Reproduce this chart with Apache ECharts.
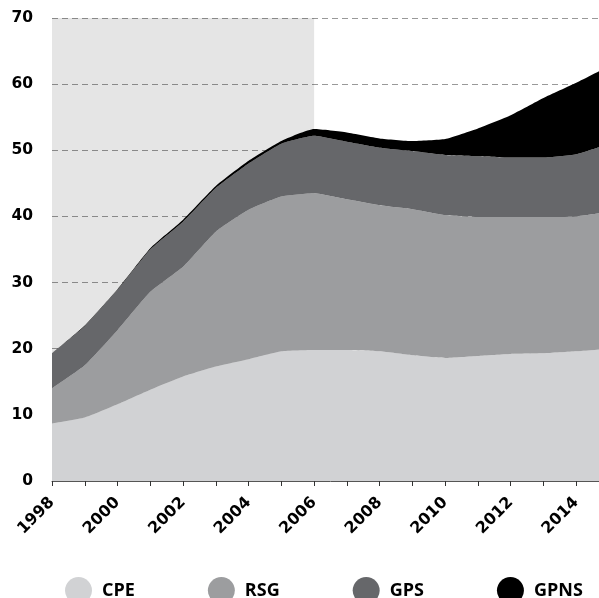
<!DOCTYPE html>
<html>
<head>
<meta charset="utf-8">
<script src="https://cdn.jsdelivr.net/npm/echarts@6/dist/echarts.min.js"></script>
<style>
  html, body { margin: 0; padding: 0; background: #fff; overflow: hidden; }
  /* a little wider than the window: the last year falls just past the right edge */
  #chart { width: 609px; height: 598px; }
</style>
</head>
<body>
<div id="chart"></div>
<script>
var years = ["1998", "1999", "2000", "2001", "2002", "2003", "2004", "2005", "2006",
  "2007", "2008", "2009", "2010", "2011", "2012", "2013", "2014", "2015"];
var cpe = [8.7, 9.6, 11.6, 13.8, 15.8, 17.3, 18.4, 19.6, 19.8, 19.8, 19.6, 19.0, 18.6, 18.9, 19.2, 19.3, 19.6, 20.0];
var rsg = [5.3, 7.9, 11.2, 14.8, 16.6, 20.4, 22.6, 23.4, 23.7, 22.8, 22.1, 22.1, 21.6, 21.0, 20.7, 20.6, 20.4, 20.7];
var gps = [5.3, 5.9, 6.1, 6.4, 6.8, 6.6, 7.0, 8.0, 8.7, 8.7, 8.7, 8.8, 9.1, 9.2, 9.0, 9.0, 9.4, 10.3];
var gpns = [0, 0.1, 0.1, 0.2, 0.3, 0.3, 0.4, 0.4, 1.0, 1.4, 1.4, 1.5, 2.4, 4.2, 6.4, 9.0, 10.8, 11.7];
var names = ["CPE", "RSG", "GPS", "GPNS"];
var colors = ["#d1d2d4", "#9c9d9f", "#66676a", "#000000"];
var shadeFrom = "1998";
var shadeTo = "2006";

var chart = echarts.init(document.getElementById("chart"));

function areaSeries(name, data, color) {
  return {
    name: name,
    type: "line",
    stack: "total",
    data: data,
    smooth: 0.15,
    showSymbol: false,
    symbol: "none",
    lineStyle: { width: 0 },
    areaStyle: { color: color, opacity: 1 },
    itemStyle: { color: color },
    z: 2
  };
}

var option = {
  animation: false,
  backgroundColor: "#fff",
  grid: { left: 52, right: 0, top: 18, bottom: 117 },
  legend: {
    data: names,
    left: 60,
    top: 572,
    icon: "circle",
    itemWidth: 27,
    itemHeight: 27,
    itemGap: 73,
    textStyle: {
      fontFamily: "Open Sans",
      fontWeight: "bold",
      fontSize: 18,
      color: "#000",
      padding: [0, 0, 0, 5]
    }
  },
  xAxis: {
    type: "category",
    data: years,
    boundaryGap: false,
    axisLine: { show: true, lineStyle: { color: "#555", width: 1 } },
    axisTick: { show: true, interval: 0, length: 5, lineStyle: { color: "#333" } },
    axisLabel: {
      interval: 1,
      rotate: 45,
      margin: 19,
      padding: [8, 0, 0, 0],
      fontFamily: "DejaVu Sans",
      fontWeight: "bold",
      fontSize: 16,
      color: "#000"
    },
    splitLine: { show: false }
  },
  yAxis: {
    type: "value",
    min: 0,
    max: 70,
    interval: 10,
    axisLine: { show: false },
    axisTick: { show: false },
    axisLabel: {
      margin: 19,
      fontFamily: "DejaVu Sans",
      fontWeight: "bold",
      fontSize: 15.5,
      color: "#000"
    },
    splitLine: { show: true, lineStyle: { color: "#999", type: [6, 4], width: 1 } }
  },
  series: [
    areaSeries(names[0], cpe, colors[0]),
    areaSeries(names[1], rsg, colors[1]),
    areaSeries(names[2], gps, colors[2]),
    areaSeries(names[3], gpns, colors[3]),
    {
      type: "line",
      data: [],
      z: 5,
      silent: true,
      markArea: {
        silent: true,
        itemStyle: { color: "rgba(0,0,0,0.1)" },
        data: [[{ xAxis: shadeFrom }, { xAxis: shadeTo }]]
      }
    }
  ]
};
chart.setOption(option);
</script>
</body>
</html>
